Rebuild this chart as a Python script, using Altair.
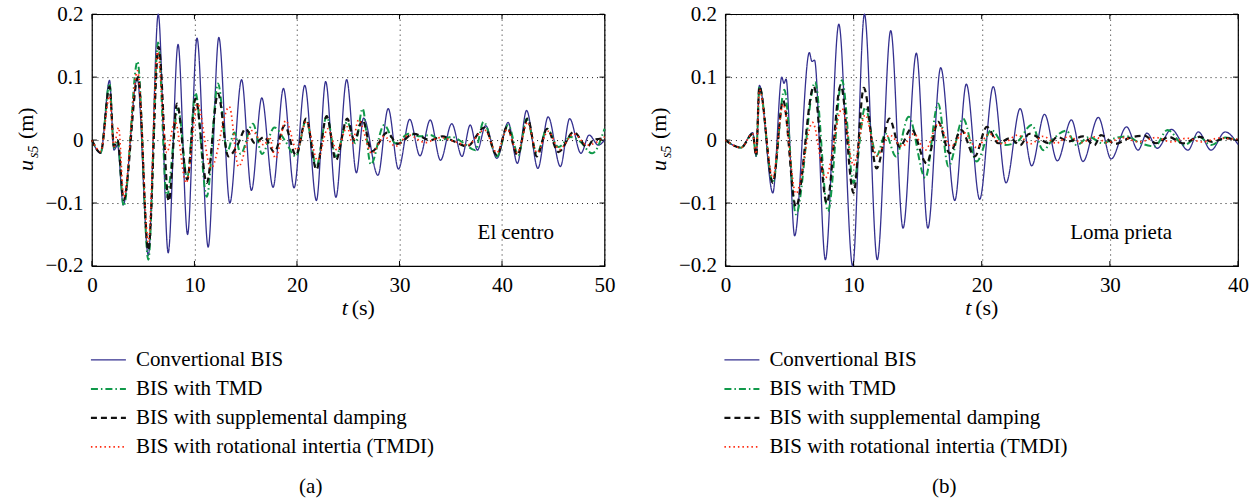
import altair as alt
import pandas as pd

# ---------------- series meta ----------------
SERIES = ["Convertional BIS", "BIS with TMD", "BIS with supplemental damping",
          "BIS with rotational intertia (TMDI)"]
COLORS = ["#34308f", "#10994a", "#111111", "#ff2b10"]
DASHES = [[1, 0], [7, 3, 1.5, 3], [6, 4], [1.5, 3]]
WIDTHS = [1.3, 2.0, 2.2, 1.7]

X_TICKS_A = [0, 10, 20, 30, 40, 50]
X_TICKS_B = [0, 10, 20, 30, 40]
Y_TICKS = [-0.2, -0.1, 0, 0.1, 0.2]

# ---------------- panel (a): El centro (extrema) ----------------
A_BLUE_T = [0, 0.85, 1.72, 2.15, 2.5, 3.05, 4.42, 5.5, 6.47, 7.44, 8.4, 9.33, 10.25, 11.34, 12.38,
            13.45, 14.6, 15.56, 16.57, 17.67, 18.68, 19.72, 20.76, 21.9, 22.8, 23.8, 24.85, 25.8,
            26.5, 27.9, 28.9, 29.9, 31.0, 32.0, 33.0, 34.0, 35.1, 36.1, 36.9, 37.6, 38.4, 39.5,
            40.6, 41.5, 42.4, 43.5, 44.5, 45.7, 46.6, 47.7, 48.5, 49.4, 50]
A_BLUE_V = [0, -0.021, 0.095, -0.016, -0.008, -0.103, 0.098, -0.183, 0.2, -0.179, 0.152, -0.15,
            0.162, -0.17, 0.163, -0.1, 0.096, -0.08, 0.067, -0.075, 0.082, -0.076, 0.087, -0.096,
            0.093, -0.091, 0.096, -0.052, 0.035, -0.056, 0.05, -0.046, 0.033, -0.025, 0.032,
            -0.032, 0.026, -0.026, 0.024, -0.016, 0.023, -0.029, 0.028, -0.037, 0.047, -0.045,
            0.037, -0.042, 0.034, -0.021, 0.008, -0.008, 0]

A_GREEN_T = [0, 0.85, 1.72, 2.15, 2.5, 3.1, 4.45, 5.5, 6.45, 7.3, 8.4, 9.3, 10.1, 11.2, 12.3, 13.2,
             13.9, 14.5, 15.7, 16.6, 17.8, 18.8, 19.9, 20.9, 21.9, 22.9, 23.8, 24.9, 25.7, 26.4,
             27.2, 28.5, 29.6, 30.9, 32.0, 33.0, 34.0, 35.1, 36.2, 37.4, 38.2, 39.5, 40.6, 41.6,
             42.4, 43.4, 44.4, 45.5, 46.7, 47.6, 48.8, 50]
A_GREEN_V = [0, -0.02, 0.09, -0.012, 0.0, -0.105, 0.125, -0.19, 0.155, -0.09, 0.05, -0.06, 0.075,
             -0.09, 0.09, -0.018, 0.012, -0.022, 0.026, -0.022, 0.02, 0.0, -0.026, 0.032, -0.042,
             0.038, -0.026, 0.029, -0.005, 0.05, -0.039, 0.024, -0.005, 0.01, 0.006, 0.008, 0.0,
             0.005, -0.004, -0.016, 0.029, -0.026, 0.024, -0.024, 0.034, -0.021, 0.018, -0.011,
             0.005, -0.002, -0.021, 0.018]

A_BLACK_T = [0, 0.85, 1.72, 2.15, 2.5, 3.1, 4.5, 5.5, 6.5, 7.5, 8.3, 9.3, 10.1, 11.2, 12.3, 13.3,
             14.2, 15.0, 15.9, 16.8, 17.8, 18.8, 19.9, 20.9, 21.9, 22.9, 23.8, 24.9, 25.6, 26.4,
             27.3, 28.8, 29.8, 31.4, 33.0, 34.2, 35.3, 36.6, 38.3, 39.5, 40.5, 41.5, 42.5, 43.4,
             44.4, 45.5, 47.0, 48.3, 48.9, 50]
A_BLACK_V = [0, -0.02, 0.085, -0.01, 0.0, -0.095, 0.1, -0.175, 0.148, -0.097, 0.058, -0.063, 0.066,
             -0.068, 0.074, -0.026, -0.008, 0.018, -0.005, 0.005, -0.019, 0.023, -0.024, 0.034,
             -0.047, 0.038, -0.032, 0.034, 0.0, 0.032, -0.018, 0.012, -0.006, 0.01, 0.0, 0.006,
             -0.002, -0.01, 0.02, -0.024, 0.021, -0.024, 0.034, -0.026, 0.018, -0.019, 0.013,
             -0.011, 0.0, 0.003]

A_RED_T = [0, 0.85, 1.72, 2.15, 2.6, 3.1, 4.45, 5.5, 6.4, 7.3, 8.1, 9.2, 10.3, 11.6, 13.4, 14.3,
           15.6, 16.8, 17.3, 17.9, 18.9, 20.0, 20.9, 22.0, 23.0, 23.9, 24.9, 25.4, 26.0, 27.3,
           28.5, 29.6, 30.9, 32.5, 34.0, 35.5, 36.6, 38.3, 39.5, 40.5, 41.5, 42.5, 43.4, 44.5,
           45.6, 47.0, 48.3, 50]
A_RED_V = [0, -0.018, 0.07, -0.01, 0.02, -0.09, 0.11, -0.162, 0.14, -0.02, 0.03, -0.068, 0.058,
           -0.045, 0.053, -0.042, 0.015, -0.008, 0.005, -0.029, 0.031, -0.016, 0.03, -0.032,
           0.018, -0.016, 0.021, -0.005, 0.032, -0.021, 0.006, -0.01, 0.008, -0.004, 0.004,
           -0.003, -0.008, 0.016, -0.02, 0.017, -0.02, 0.028, -0.02, 0.014, -0.015, 0.01,
           -0.008, 0.005]

# ---------------- panel (b): Loma prieta ----------------
B_BLUE_T = [0, 1.22, 2.13, 2.4, 2.65, 3.7, 4.4, 4.57, 4.73, 5.4, 6.55, 6.75, 6.95, 7.8, 8.85,
            9.93, 10.85, 11.85, 12.9, 13.86, 14.9, 15.8, 16.8, 17.9, 18.8, 19.84, 20.9, 21.9,
            23.0, 23.9, 24.9, 25.9, 27.0, 27.9, 29.1, 30.1, 31.3, 32.2, 32.9, 33.7, 34.8, 36.1,
            36.9, 37.9, 39.0, 40]
B_BLUE_V = [0, -0.012, 0.012, -0.026, 0.087, -0.084, 0.1, 0.09, 0.097, -0.152, 0.139, 0.125,
            0.127, -0.19, 0.184, -0.2, 0.2, -0.19, 0.174, -0.14, 0.138, -0.14, 0.115, -0.096,
            0.089, -0.094, 0.085, -0.068, 0.05, -0.041, 0.041, -0.033, 0.032, -0.034, 0.036,
            -0.03, 0.021, -0.016, 0.011, -0.013, 0.017, -0.016, 0.013, -0.016, 0.013, -0.007]

B_GREEN_T = [0, 1.22, 2.13, 2.4, 2.65, 3.7, 4.6, 5.5, 7.0, 8.0, 9.1, 10.0, 10.9, 11.8, 12.5, 13.3,
             14.3, 15.6, 16.6, 17.4, 18.55, 19.6, 20.75, 21.8, 22.8, 23.9, 24.8, 25.5, 26.6, 27.4,
             28.4, 29.4, 30.4, 31.3, 32.3, 33.5, 34.5, 35.8, 36.9, 37.9, 39.0, 40]
B_GREEN_V = [0, -0.012, 0.01, -0.025, 0.085, -0.068, 0.08, -0.118, 0.092, -0.113, 0.095, -0.068,
             0.052, -0.025, 0.01, -0.026, 0.037, -0.06, 0.058, -0.042, 0.034, -0.034, 0.016,
             -0.008, -0.002, 0.024, -0.016, 0.0, 0.015, -0.008, 0.005, -0.005, 0.003, 0.006,
             -0.004, -0.01, 0.016, -0.008, 0.006, -0.008, 0.004, 0.0]

B_BLACK_T = [0, 1.22, 2.13, 2.4, 2.65, 3.7, 4.5, 5.5, 6.9, 7.9, 9.0, 10.0, 10.8, 11.8, 12.8, 13.6,
             14.5, 15.7, 16.6, 17.5, 18.4, 19.45, 20.4, 21.3, 22.2, 23.0, 23.7, 25.3, 25.9, 26.8,
             27.9, 28.8, 29.3, 30.4, 31.6, 32.7, 33.6, 34.6, 35.7, 37.0, 38.0, 39.0, 40]
B_BLACK_V = [0, -0.012, 0.01, -0.025, 0.085, -0.068, 0.063, -0.106, 0.085, -0.1, 0.087, -0.084,
             0.083, -0.045, 0.034, -0.011, 0.018, -0.037, 0.029, -0.021, 0.016, -0.026, 0.021,
             -0.005, 0.003, -0.008, 0.01, -0.005, 0.005, -0.002, 0.006, -0.008, 0.008, -0.006,
             0.004, 0.007, -0.005, 0.005, -0.005, 0.005, -0.003, 0.003, 0.0]

B_RED_T = [0, 1.22, 2.13, 2.4, 2.65, 3.7, 4.5, 5.5, 6.8, 7.8, 9.1, 10.0, 10.9, 11.8, 12.8, 13.8,
           14.7, 15.6, 16.6, 17.6, 18.6, 19.6, 20.6, 21.6, 22.8, 23.8, 24.8, 25.8, 26.8, 27.8,
           28.8, 29.8, 31.0, 32.3, 33.6, 34.8, 36.0, 37.2, 38.5, 40]
B_RED_V = [0, -0.012, 0.01, -0.022, 0.08, -0.06, 0.057, -0.085, 0.028, -0.06, 0.05, -0.04, 0.04,
           -0.025, 0.008, -0.01, 0.01, -0.016, 0.026, -0.01, 0.012, -0.012, 0.01, -0.006, 0.008,
           -0.006, 0.006, -0.005, 0.006, -0.004, 0.005, -0.004, 0.004, -0.003, 0.004, -0.003,
           0.003, -0.003, 0.003, 0.001]

# ---------------- layout / style ----------------
W, H = 513, 252
FONT = "Liberation Serif"
TICK_FS = 21
LEG_FS = 21
ONE = pd.DataFrame({"k": [0]})


def text_layer(txt, x, y, size=20, style="normal", align="left", baseline="alphabetic", angle=0):
    return alt.Chart(ONE).mark_text(
        text=txt, font=FONT, fontSize=size, fontStyle=style, align=align,
        baseline=baseline, angle=angle, color="black"
    ).encode(x=alt.value(x), y=alt.value(y))


def panel(series_data, tmax, xticks, place, place_x, letter, tx):
    frames = []
    for name, (ts, vs) in zip(SERIES, series_data):
        frames.append(pd.DataFrame({"t": ts, "v": vs, "series": name}))
    df = pd.concat(frames, ignore_index=True)

    xenc = alt.X("t:Q", scale=alt.Scale(domain=[0, tmax], nice=False, zero=False),
                 axis=alt.Axis(values=xticks, title=None, labelFont=FONT, labelFontSize=TICK_FS,
                               labelColor="black", labelPadding=9, ticks=False, domain=False,
                               grid=True, gridDash=[1, 4], gridColor="black", gridOpacity=0.9,
                               labelFlush=False))
    yenc = alt.Y("v:Q", scale=alt.Scale(domain=[-0.2, 0.2], nice=False, zero=False),
                 axis=alt.Axis(values=Y_TICKS, title=None, labelFont=FONT, labelFontSize=TICK_FS,
                               labelColor="black", labelPadding=9, ticks=False, domain=False,
                               grid=True, gridDash=[1, 4], gridColor="black", gridOpacity=0.9,
                               labelFlush=False,
                               labelExpr="datum.value == 0 ? '0' : format(datum.value, '.1f')"))

    layers = []
    for i, name in enumerate(SERIES):
        layers.append(
            alt.Chart(df).transform_filter(alt.datum.series == name)
            .mark_line(interpolate="monotone", color=COLORS[i], strokeDash=DASHES[i],
                       strokeWidth=WIDTHS[i])
            .encode(x=xenc, y=yenc)
        )

    # inward ticks (MATLAB style)
    xt = pd.DataFrame({"t": xticks})
    yt = pd.DataFrame({"v": Y_TICKS})
    layers.append(alt.Chart(xt).mark_rule(color="black").encode(x=xenc, y=alt.value(H), y2=alt.value(H - 5)))
    layers.append(alt.Chart(xt).mark_rule(color="black").encode(x=xenc, y=alt.value(0), y2=alt.value(5)))
    layers.append(alt.Chart(yt).mark_rule(color="black").encode(y=yenc, x=alt.value(0), x2=alt.value(5)))
    layers.append(alt.Chart(yt).mark_rule(color="black").encode(y=yenc, x=alt.value(W - 5), x2=alt.value(W)))

    # axis titles
    layers.append(text_layer("u", -59, 157, size=22, style="italic", angle=270))
    layers.append(text_layer("s5", -54, 144, size=14, style="italic", angle=270))
    layers.append(text_layer("(m)", -59, 125, size=22, angle=270))
    layers.append(text_layer("t", tx, 301, size=22, style="italic"))
    layers.append(text_layer("(s)", tx + 10, 301, size=22))

    # in-plot label
    layers.append(text_layer(place, place_x, 225, size=21))

    # legend (manual, below the plot)
    for i, name in enumerate(SERIES):
        ly = 346 + 29 * i
        layers.append(
            alt.Chart(ONE).mark_rule(color=COLORS[i], strokeDash=DASHES[i], strokeWidth=WIDTHS[i])
            .encode(x=alt.value(-1), x2=alt.value(34), y=alt.value(ly))
        )
        layers.append(text_layer(name, 44, ly, size=LEG_FS, baseline="middle"))

    layers.append(text_layer(letter, 219, 473, size=21, align="center", baseline="middle"))

    return alt.layer(*layers).properties(width=W, height=H)


panel_a = panel(
    [(A_BLUE_T, A_BLUE_V), (A_GREEN_T, A_GREEN_V), (A_BLACK_T, A_BLACK_V), (A_RED_T, A_RED_V)],
    50, X_TICKS_A, "El centro", 386, "(a)", 250)
panel_b = panel(
    [(B_BLUE_T, B_BLUE_V), (B_GREEN_T, B_GREEN_V), (B_BLACK_T, B_BLACK_V), (B_RED_T, B_RED_V)],
    40, X_TICKS_B, "Loma prieta", 345, "(b)", 240)

chart = alt.hconcat(panel_a, panel_b, spacing=31).properties(
    padding={"left": 14, "top": 2, "right": 5, "bottom": 0},
    background="white",
).configure_view(stroke="black", strokeWidth=1.2)

chart.save("out.html", embed_options={"renderer": "svg", "actions": False})
